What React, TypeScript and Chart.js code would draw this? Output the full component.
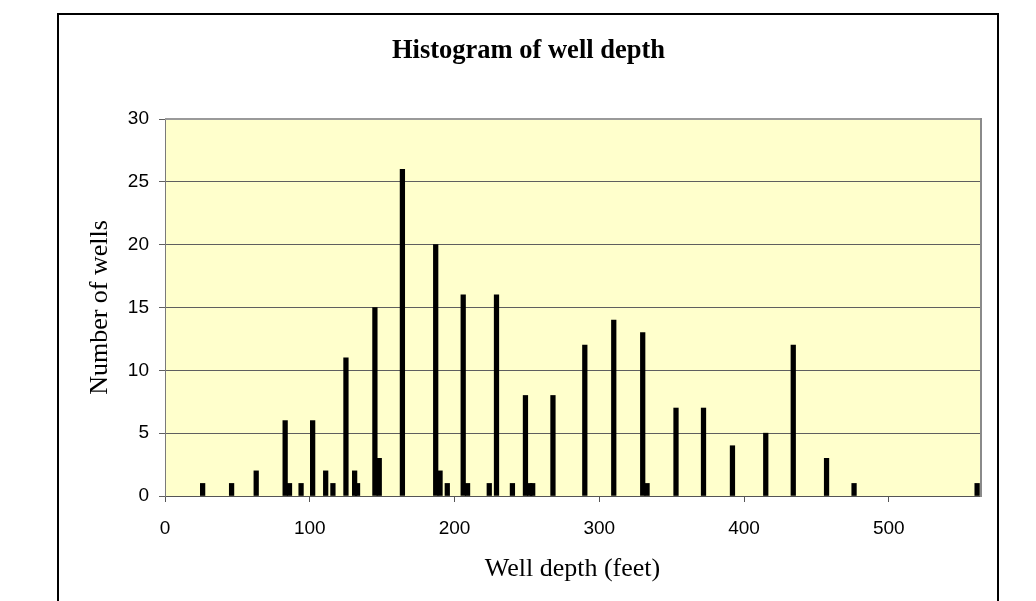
import React, { useEffect, useRef } from "react";
import { Chart, registerables } from "chart.js";

Chart.register(...registerables);

const chartTitle = "Histogram of well depth";
const xAxisTitle = "Well depth (feet)";
const yAxisTitle = "Number of wells";

const wellDepths = [
  26, 46, 63, 83, 86, 94, 102, 111, 116, 125, 131, 133, 145, 148, 164, 187, 190,
  195, 206, 209, 224, 229, 240, 249, 252, 254, 268, 290, 310, 330, 333, 353, 372,
  392, 415, 434, 457, 476, 561,
];
const wellCounts = [
  1, 1, 2, 6, 1, 1, 6, 2, 1, 11, 2, 1, 15, 3, 26, 20, 2, 1, 16, 1, 1, 16, 1, 8, 1,
  1, 8, 12, 14, 13, 1, 7, 7, 4, 5, 12, 3, 1, 1,
];
const xTickValues = [0, 100, 200, 300, 400, 500];
const yTickValues = [0, 5, 10, 15, 20, 25, 30];

const SERIF = "'Liberation Serif', 'Times New Roman', serif";
const SANS = "'Liberation Sans', Arial, sans-serif";

const plotFrame = {
  id: "plotFrame",
  beforeDraw(chart: any) {
    const { ctx, chartArea: a } = chart;
    ctx.save();
    ctx.fillStyle = "#FFFFCC";
    ctx.fillRect(a.left, a.top, a.right - a.left, a.bottom - a.top);
    ctx.restore();
  },
  afterDraw(chart: any) {
    const { ctx, chartArea: a } = chart;
    ctx.save();
    ctx.fillStyle = "#9a9a9a";
    ctx.fillRect(a.left, a.top - 1, a.right - a.left + 2, 2);
    ctx.fillStyle = "#8a8a8a";
    ctx.fillRect(a.right, a.top - 1, 2, a.bottom - a.top + 2);
    ctx.restore();
  },
};

export default function App() {
  const canvasRef = useRef<HTMLCanvasElement | null>(null);

  useEffect(() => {
    if (!canvasRef.current) return;
    const data = wellDepths.map((d, i) => ({ x: d, y: wellCounts[i] }));
    const chart = new Chart(canvasRef.current, {
      type: "bar",
      data: {
        datasets: [
          {
            data: data as any,
            backgroundColor: "#000000",
            borderWidth: 0,
            barThickness: 4.6,
            grouped: false,
          } as any,
        ],
      },
      options: {
        responsive: false,
        animation: false,
        devicePixelRatio: 1,
        layout: { padding: { left: 77, right: 56, top: 0, bottom: 0 } },
        plugins: {
          legend: { display: false },
          tooltip: { enabled: false },
          title: {
            display: true,
            text: chartTitle,
            color: "#000",
            font: { family: SERIF, size: 26.5, weight: "bold", lineHeight: 1.2 },
            padding: { top: 35.1, bottom: 52.1 },
          },
        },
        scales: {
          x: {
            type: "linear",
            min: 0,
            max: 563,
            offset: false,
            afterBuildTicks: (s: any) => {
              s.ticks = xTickValues.map((v) => ({ value: v }));
            },
            afterFit: (s: any) => {
              s.height = 105;
            },
            ticks: {
              color: "#000",
              font: { family: SANS, size: 19 },
              padding: 15,
              maxRotation: 0,
              autoSkip: false,
            },
            grid: {
              display: true,
              drawOnChartArea: false,
              drawTicks: true,
              tickLength: 6,
              color: "#555555",
              offset: false,
            },
            border: { display: true, color: "#555555", width: 1 },
            title: {
              display: true,
              text: xAxisTitle,
              color: "#000",
              font: { family: SERIF, size: 26, lineHeight: 1.2 },
              padding: { top: 0, bottom: 16.4 },
            },
          } as any,
          y: {
            type: "linear",
            min: 0,
            max: 30,
            afterBuildTicks: (s: any) => {
              s.ticks = yTickValues.map((v) => ({ value: v }));
            },
            afterFit: (s: any) => {
              s.width = 88;
            },
            ticks: {
              color: "#000",
              font: { family: SANS, size: 19 },
              padding: 10,
            },
            grid: {
              color: "#5f5f5f",
              lineWidth: 1,
              drawTicks: true,
              tickLength: 6,
            },
            border: { display: true, color: "#7a7a7a", width: 1 },
            title: {
              display: true,
              text: yAxisTitle,
              color: "#000",
              font: { family: SERIF, size: 26, lineHeight: 1.2 },
              padding: { top: 7.4, bottom: 0 },
            },
          } as any,
        },
      },
      plugins: [plotFrame],
    });
    return () => chart.destroy();
  }, []);

  return (
    <div
      style={{
        position: "fixed",
        left: 0,
        top: 0,
        width: 1036,
        height: 601,
        overflow: "hidden",
        background: "#ffffff",
      }}
    >
      <div
        style={{
          position: "absolute",
          left: 57,
          top: 13,
          width: 938,
          height: 700,
          border: "2px solid #000",
          boxSizing: "content-box",
        }}
      />
      <canvas
        ref={canvasRef}
        width={1036}
        height={601}
        style={{ position: "absolute", left: 0, top: 0, width: 1036, height: 601 }}
      />
    </div>
  );
}
